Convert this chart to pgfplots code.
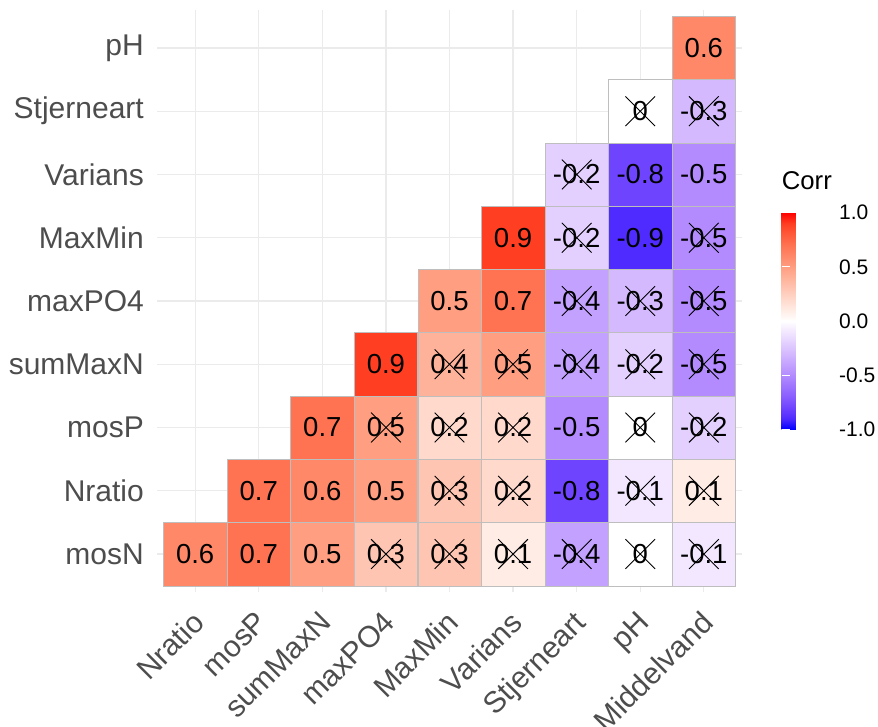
\documentclass[border=0pt]{standalone}
\usepackage{pgfplots}
\pgfplotsset{compat=1.18}
\usepackage{pgfplotstable}
\usepackage{fontspec}
\setmainfont{Liberation Sans}

\definecolor{gridgray}{RGB}{235,235,235}
\definecolor{tickgray}{RGB}{77,77,77}
\definecolor{tileedge}{RGB}{190,190,190}

% Lower-triangle correlation matrix: column index, row index, rounded r
\pgfplotstableread{
x y v
0 0 0.6
1 0 0.7
2 0 0.5
3 0 0.3
4 0 0.3
5 0 0.1
6 0 -0.4
7 0 0
8 0 -0.1
1 1 0.7
2 1 0.6
3 1 0.5
4 1 0.3
5 1 0.2
6 1 -0.8
7 1 -0.1
8 1 0.1
2 2 0.7
3 2 0.5
4 2 0.2
5 2 0.2
6 2 -0.5
7 2 0
8 2 -0.2
3 3 0.9
4 3 0.4
5 3 0.5
6 3 -0.4
7 3 -0.2
8 3 -0.5
4 4 0.5
5 4 0.7
6 4 -0.4
7 4 -0.3
8 4 -0.5
5 5 0.9
6 5 -0.2
7 5 -0.9
8 5 -0.5
6 6 -0.2
7 6 -0.8
8 6 -0.5
7 7 0
8 7 -0.3
8 8 0.6
}\corrtab

% Cells whose correlation is not significant (crossed out)
\pgfplotstableread{
x y
3 0
4 0
5 0
6 0
7 0
8 0
4 1
5 1
7 1
8 1
3 2
4 2
5 2
7 2
8 2
4 3
5 3
6 3
7 3
8 3
6 4
7 4
8 4
6 5
8 5
6 6
7 7
8 7
}\nsigtab

\begin{document}
\begin{tikzpicture}
\useasboundingbox (0,0) rectangle (878bp,727bp);
\begin{axis}[
  at={(157bp,135bp)}, anchor=south west,
  scale only axis, width=585bp, height=582bp,
  xmin=-0.6, xmax=8.6, ymin=-0.6, ymax=8.6,
  axis line style={draw=none},
  major tick length=0pt,
  xtick={0,...,8}, ytick={0,...,8},
  xticklabels={Nratio,mosP,sumMaxN,maxPO4,MaxMin,Varians,Stjerneart,pH,Middelvand},
  yticklabels={mosN,Nratio,mosP,sumMaxN,maxPO4,MaxMin,Varians,Stjerneart,pH},
  ticklabel style={font=\fontsize{30bp}{36bp}\selectfont, text=tickgray},
  xticklabel style={rotate=45, anchor=north east, inner sep=0pt, xshift=-15.2bp, yshift=-9bp},
  yticklabel style={anchor=east, inner sep=0pt, xshift=-13bp},
  grid=major,
  major grid style={draw=gridgray, line width=1.3bp},
  % blue - white - red, evenly spaced every 0.1 from -1 to 1
  colormap={corr}{
    rgb255=(0,0,255) rgb255=(80,43,255) rgb255=(111,68,255) rgb255=(137,93,255)
    rgb255=(158,116,255) rgb255=(179,139,255) rgb255=(195,162,255) rgb255=(212,185,255)
    rgb255=(227,208,255) rgb255=(242,231,255) rgb255=(255,255,255)
    rgb255=(255,236,229) rgb255=(255,217,204) rgb255=(255,197,179) rgb255=(255,178,154)
    rgb255=(255,158,129) rgb255=(255,136,105) rgb255=(255,115,82) rgb255=(255,90,58)
    rgb255=(255,62,34) rgb255=(255,0,0)},
  point meta min=-1, point meta max=1,
  colorbar,
  colorbar style={
    at={(parent axis.south east)}, anchor=south west,
    xshift=31.2bp, yshift=162.7bp,
    scale only axis, width=43.3bp, height=216.6bp,
    ytick={-1,-0.5,0,0.5,1},
    yticklabels={-1.0,-0.5,0.0,0.5,1.0},
    tick pos=both, yticklabel pos=right,
    yticklabel style={font=\fontsize{21bp}{25bp}\selectfont, text=black,
      anchor=west, inner sep=0pt, xshift=14bp},
    axis line style={draw=none},
    major tick style={draw=white, line width=1bp},
    major tick length=8.6bp,
    tick align=inside,
    title={Corr},
    title style={at={(0,1)}, anchor=base west, yshift=17.7bp, inner sep=0pt,
      font=\fontsize{25.7bp}{30bp}\selectfont},
  },
  clip=false,
]
% coloured tiles
\addplot[scatter, only marks, mark=square*, mark size=31.7bp,
  scatter src=explicit,
  scatter/use mapped color={draw=tileedge, fill=mapped color}]
  table[x=x, y=y, meta=v] {\corrtab};
% rounded coefficients printed in each tile
\addplot[only marks, mark=none, point meta=explicit,
  nodes near coords={\pgfmathprintnumber[fixed, precision=1, assume math mode=true]{\pgfplotspointmeta}},
  nodes near coords align=center,
  every node near coord/.append style={font=\fontsize{27.5bp}{33bp}\selectfont,
    text=black, anchor=center, inner sep=0pt}]
  table[x=x, y=y, meta=v] {\corrtab};
% crosses over non-significant coefficients
\addplot[only marks, mark=x, mark size=21bp,
  mark options={draw=black, line width=0.9bp}]
  table[x=x, y=y] {\nsigtab};
\end{axis}
\end{tikzpicture}
\end{document}
